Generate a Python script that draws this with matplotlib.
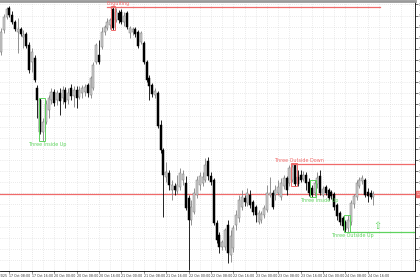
import numpy as np
import matplotlib.pyplot as plt
from matplotlib.patches import Rectangle

# hourly OHLC (price units)
opens = [1.16736, 1.16835, 1.16894, 1.16934, 1.16902, 1.16871, 1.16826, 1.16840, 1.16804, 1.16817,
         1.16767, 1.16691, 1.16709, 1.16574, 1.16520, 1.16376, 1.16421, 1.16475, 1.16520, 1.16556,
         1.16520, 1.16551, 1.16529, 1.16565, 1.16520, 1.16574, 1.16538, 1.16565, 1.16533, 1.16551,
         1.16556, 1.16587, 1.16542, 1.16574, 1.16691, 1.16722, 1.16758, 1.16826, 1.16844, 1.16857,
         1.16929, 1.16880, 1.16911, 1.16916, 1.16871, 1.16911, 1.16821, 1.16826, 1.16839, 1.16826,
         1.16781, 1.16776, 1.16691, 1.16619, 1.16587, 1.16542, 1.16551, 1.16407, 1.16295, 1.16173,
         1.16191, 1.16115, 1.16133, 1.16110, 1.16128, 1.16160, 1.16146, 1.16079, 1.15980, 1.16016,
         1.16092, 1.16137, 1.16146, 1.16160, 1.16245, 1.16178, 1.16160, 1.15966, 1.15912, 1.15858,
         1.15858, 1.15957, 1.15822, 1.15854, 1.15957, 1.15989, 1.16038, 1.16079, 1.16056, 1.16092,
         1.16061, 1.16038, 1.15971, 1.15980, 1.16002, 1.16025, 1.16092, 1.16101, 1.16092, 1.16101,
         1.16083, 1.16133, 1.16169, 1.16146, 1.16160, 1.16227, 1.16173, 1.16182, 1.16164, 1.16182,
         1.16151, 1.16124, 1.16101, 1.16142, 1.16178, 1.16092, 1.16128, 1.16115, 1.16106, 1.16097,
         1.16047, 1.16011, 1.15989, 1.15971, 1.15944, 1.15971, 1.16052, 1.16083, 1.16133, 1.16155,
         1.16160, 1.16106, 1.16101, 1.16083]
highs = [1.16844, 1.16907, 1.16938, 1.16943, 1.16920, 1.16880, 1.16889, 1.16848, 1.16835, 1.16826,
         1.16781, 1.16754, 1.16722, 1.16587, 1.16529, 1.16439, 1.16520, 1.16542, 1.16574, 1.16569,
         1.16565, 1.16574, 1.16583, 1.16578, 1.16574, 1.16592, 1.16583, 1.16583, 1.16583, 1.16587,
         1.16592, 1.16596, 1.16628, 1.16691, 1.16776, 1.16790, 1.16848, 1.16857, 1.16889, 1.16889,
         1.16943, 1.16934, 1.16925, 1.16929, 1.16916, 1.16920, 1.16853, 1.16848, 1.16848, 1.16835,
         1.16830, 1.16785, 1.16700, 1.16632, 1.16596, 1.16574, 1.16560, 1.16430, 1.16304, 1.16241,
         1.16205, 1.16160, 1.16146, 1.16182, 1.16214, 1.16205, 1.16178, 1.16092, 1.16070, 1.16124,
         1.16178, 1.16196, 1.16196, 1.16259, 1.16263, 1.16196, 1.16169, 1.15980, 1.15926, 1.15890,
         1.15944, 1.15980, 1.15935, 1.15957, 1.16025, 1.16092, 1.16115, 1.16092, 1.16124, 1.16115,
         1.16070, 1.16047, 1.16025, 1.16020, 1.16047, 1.16137, 1.16173, 1.16115, 1.16137, 1.16160,
         1.16169, 1.16182, 1.16178, 1.16227, 1.16236, 1.16236, 1.16205, 1.16205, 1.16200, 1.16196,
         1.16169, 1.16137, 1.16160, 1.16196, 1.16205, 1.16133, 1.16137, 1.16124, 1.16115, 1.16106,
         1.16056, 1.16020, 1.15998, 1.15980, 1.16002, 1.16070, 1.16097, 1.16160, 1.16173, 1.16182,
         1.16169, 1.16124, 1.16115, 1.16110]
lows = [1.16722, 1.16822, 1.16885, 1.16894, 1.16862, 1.16830, 1.16732, 1.16808, 1.16754, 1.16754,
        1.16641, 1.16646, 1.16601, 1.16439, 1.16367, 1.16335, 1.16412, 1.16439, 1.16502, 1.16493,
        1.16497, 1.16452, 1.16502, 1.16484, 1.16502, 1.16520, 1.16488, 1.16484, 1.16524, 1.16529,
        1.16538, 1.16533, 1.16529, 1.16565, 1.16682, 1.16682, 1.16749, 1.16812, 1.16835, 1.16839,
        1.16835, 1.16871, 1.16866, 1.16862, 1.16853, 1.16839, 1.16799, 1.16812, 1.16803, 1.16754,
        1.16772, 1.16682, 1.16601, 1.16520, 1.16533, 1.16529, 1.16394, 1.16281, 1.15993, 1.16151,
        1.16115, 1.16070, 1.16092, 1.16097, 1.16115, 1.16137, 1.16025, 1.15755, 1.15957, 1.16007,
        1.16079, 1.16115, 1.16133, 1.16151, 1.16160, 1.16137, 1.15957, 1.15876, 1.15831, 1.15845,
        1.15845, 1.15786, 1.15791, 1.15836, 1.15935, 1.15971, 1.16025, 1.16043, 1.16043, 1.16034,
        1.16002, 1.15971, 1.15962, 1.15966, 1.15989, 1.16016, 1.16083, 1.16029, 1.16070, 1.16092,
        1.16070, 1.16119, 1.16092, 1.16133, 1.16151, 1.16133, 1.16133, 1.16151, 1.16155, 1.16115,
        1.16088, 1.16083, 1.16088, 1.16124, 1.16092, 1.16083, 1.16092, 1.16070, 1.16074, 1.16025,
        1.15980, 1.15957, 1.15935, 1.15926, 1.15926, 1.15957, 1.16034, 1.16070, 1.16124, 1.16142,
        1.16083, 1.16061, 1.16074, 1.16047]
closes = [1.16826, 1.16894, 1.16930, 1.16902, 1.16871, 1.16840, 1.16840, 1.16817, 1.16812, 1.16763,
          1.16655, 1.16736, 1.16610, 1.16520, 1.16376, 1.16421, 1.16502, 1.16529, 1.16556, 1.16506,
          1.16551, 1.16515, 1.16565, 1.16511, 1.16551, 1.16538, 1.16565, 1.16529, 1.16565, 1.16574,
          1.16578, 1.16551, 1.16619, 1.16677, 1.16767, 1.16691, 1.16826, 1.16848, 1.16871, 1.16880,
          1.16844, 1.16916, 1.16880, 1.16871, 1.16898, 1.16848, 1.16844, 1.16839, 1.16817, 1.16763,
          1.16821, 1.16691, 1.16610, 1.16583, 1.16547, 1.16560, 1.16403, 1.16295, 1.16182, 1.16196,
          1.16137, 1.16137, 1.16115, 1.16137, 1.16191, 1.16187, 1.16034, 1.15980, 1.16038, 1.16101,
          1.16160, 1.16178, 1.16173, 1.16227, 1.16178, 1.16151, 1.15966, 1.15890, 1.15858, 1.15881,
          1.15935, 1.15831, 1.15908, 1.15944, 1.16002, 1.16070, 1.16083, 1.16061, 1.16101, 1.16047,
          1.16016, 1.16002, 1.16011, 1.16007, 1.16034, 1.16101, 1.16101, 1.16038, 1.16115, 1.16128,
          1.16146, 1.16169, 1.16115, 1.16214, 1.16218, 1.16142, 1.16142, 1.16160, 1.16182, 1.16146,
          1.16101, 1.16092, 1.16146, 1.16169, 1.16101, 1.16119, 1.16101, 1.16079, 1.16088, 1.16038,
          1.15998, 1.15971, 1.15953, 1.15935, 1.15980, 1.16056, 1.16088, 1.16146, 1.16160, 1.16169,
          1.16092, 1.16088, 1.16083, 1.16097]

# time axis labels (bar index where each label starts)
label_bars = [-5, 3, 11, 19, 27, 35, 43, 51, 59, 67, 75, 83, 91, 99, 107, 115, 123, 131]
label_text = ["17 Oct 2025", "17 Oct 08:00", "17 Oct 16:00", "20 Oct 00:00", "20 Oct 08:00",
              "20 Oct 16:00", "21 Oct 00:00", "21 Oct 08:00", "21 Oct 16:00", "22 Oct 00:00",
              "22 Oct 08:00", "22 Oct 16:00", "23 Oct 00:00", "23 Oct 08:00", "23 Oct 16:00",
              "24 Oct 00:00", "24 Oct 08:00", "24 Oct 16:00"]

# detected candlestick patterns
pat_names = ["Three Inside Up", "Engulfing", "Three Outside Down", "Three Inside Up", "Three Outside Up"]
pat_first = [14, 40, 104, 111, 123]
pat_last = [15, 40, 105, 112, 124]
pat_bull = [True, False, False, True, True]
pat_line = [False, True, True, False, True]

GREEN = "#5fd35f"
RED = "#f06a6a"
BULL = "#cccccc"

fig = plt.figure(figsize=(4.2, 2.8), dpi=100)
ax = fig.add_axes([0, 9 / 280, 415 / 420, 270 / 280])

o = np.array(opens)
h = np.array(highs)
l = np.array(lows)
c = np.array(closes)
x = np.arange(len(c))
up = c >= o

# wicks
ax.vlines(x[up], l[up], h[up], color="#808080", lw=0.6, zorder=2)
ax.vlines(x[~up], l[~up], h[~up], color="black", lw=0.6, zorder=2)
# bodies
body_lo = np.minimum(o, c)
body_h = np.maximum(np.abs(c - o), 0.00002)
ax.bar(x[up], body_h[up], bottom=body_lo[up], width=0.72, color=BULL,
       edgecolor="#7a7a7a", lw=0.35, zorder=3)
ax.bar(x[~up], body_h[~up], bottom=body_lo[~up], width=0.72, color="black",
       edgecolor="black", lw=0.35, zorder=3)

x0, x1 = -0.36, -0.36 + 415 / 2.8
ax.set_xlim(x0, x1)
ax.set_ylim(1.157505, 1.169655)

# current price line
ax.axhline(c[-1], color=RED, lw=0.9, zorder=1)

# patterns
for name, a, b, bull, has_line in zip(pat_names, pat_first, pat_last, pat_bull, pat_line):
    col = GREEN if bull else RED
    top = h[a:b + 1].max()
    bot = l[a:b + 1].min()
    ax.add_patch(Rectangle((a - 0.6, bot), b - a + 1.2, top - bot, fill=False,
                           edgecolor=col, lw=0.7, zorder=4))
    cx = (a + b) / 2 + 2
    if bull:
        ax.text(cx, bot - 0.00003, name, color=col, fontsize=3.5, ha="center", va="top", zorder=5)
        if has_line:
            ax.plot([b + 0.6, x1], [bot, bot], color=col, lw=0.9, zorder=4)
    else:
        ax.text(cx, top + 0.00001, name, color=col, fontsize=3.5, ha="center", va="bottom", zorder=5)
        if has_line:
            end = x1 if name != "Engulfing" else len(c) + 1.5
            start = a - 0.6 if name != "Engulfing" else a - 2
            ax.plot([start, end], [top - 0.00003, top - 0.00003], color=col, lw=0.9, zorder=4)

# up arrow after last bullish pattern
ax.text(len(c) + 0.5, l[pat_first[-1]:pat_last[-1] + 1].min() + 0.00006, "\u21e7",
        color=GREEN, fontsize=7, ha="center", va="bottom", zorder=5)

# grid & axes
yt = np.arange(1.1580, 1.1696, 0.0005)
ax.set_yticks(yt)
ax.set_yticklabels(["" if abs(v - c[-1]) < 0.0002 else f"{v:.5f}" for v in yt])
ax.yaxis.tick_right()
ax.tick_params(axis="y", labelsize=2.3, length=2, width=0.5, pad=0.5, colors="#333333")
ax.set_xticks(np.arange(3, x1, 4))
ax.set_xticklabels([])
ax.tick_params(axis="x", length=0)
ax.grid(True, color="#d6d6d6", lw=0.5, ls=(0, (1, 2)))
ax.set_axisbelow(True)

ax.spines["left"].set_visible(False)
ax.spines["top"].set_color("#9a9a9a")
ax.spines["top"].set_linewidth(2)
ax.spines["right"].set_linewidth(0.6)
ax.spines["bottom"].set_linewidth(0.6)

for xb, txt in zip(label_bars, label_text):
    ax.text(xb, -0.012, txt, transform=ax.get_xaxis_transform(), fontsize=2.3,
            ha="left", va="top", color="#333333", clip_on=False)
    ax.plot([xb, xb], [0, -0.008], transform=ax.get_xaxis_transform(), color="#333333",
            lw=0.4, clip_on=False)

ax.text(1.003, c[-1], f"{c[-1]:.5f}", transform=ax.get_yaxis_transform(), fontsize=2.3,
        color="white", va="center", ha="left", clip_on=False,
        bbox=dict(boxstyle="square,pad=0.2", fc=RED, ec=RED))

fig.savefig("out.png", dpi=100)
